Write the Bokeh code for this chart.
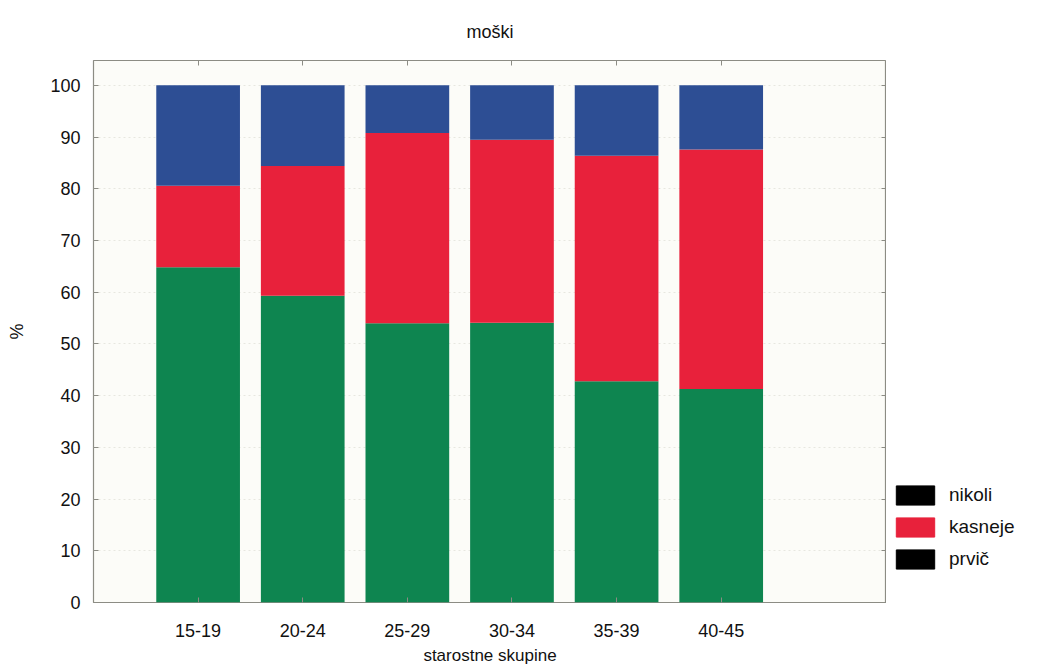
from bokeh.plotting import figure
from bokeh.layouts import row
from bokeh.models import (Range1d, LinearAxis, FixedTicker, Legend, LegendItem,
                          ColumnDataSource)
from bokeh.embed import file_html
from bokeh.resources import INLINE

# ---- data ----
categories = ["15-19", "20-24", "25-29", "30-34", "35-39", "40-45"]
prvic = [64.8, 59.3, 54.0, 54.1, 42.8, 41.3]
kasneje = [15.8, 25.1, 36.8, 35.4, 43.6, 46.3]
nikoli = [19.4, 15.6, 9.2, 10.5, 13.6, 12.4]
series_names = ["prvič", "kasneje", "nikoli"]
series_colors = ["#0e8550", "#e8213b", "#2d4e94"]
legend_names = ["nikoli", "kasneje", "prvič"]
legend_colors = ["black", "#e8213b", "black"]
y_ticks = [0, 10, 20, 30, 40, 50, 60, 70, 80, 90, 100]

FONT = "Liberation Sans"
TXT = "#111111"
NAN = float("nan")
xs = list(range(1, len(categories) + 1))

src = ColumnDataSource(dict(x=xs, prvič=prvic, kasneje=kasneje, nikoli=nikoli))

p = figure(frame_width=793, frame_height=542, output_backend="svg",
           toolbar_location=None,
           x_range=Range1d(0, 7.58), y_range=Range1d(0, 104.8), min_border=0)
p.margin = (0, 0, 0, 4)
p.background_fill_color = "#fcfcf8"
p.border_fill_color = "white"
p.outline_line_color = "#8c8c84"
p.outline_line_width = 1.2

p.vbar_stack(series_names, x="x", width=0.8, source=src, color=series_colors,
             line_color=None)

# axes
p.xaxis.ticker = FixedTicker(ticks=xs)
p.xaxis.major_label_overrides = {x: c for x, c in zip(xs, categories)}
p.yaxis.ticker = FixedTicker(ticks=y_ticks)
for ax in [p.xaxis[0], p.yaxis[0]]:
    ax.major_tick_in = 5
    ax.major_tick_out = 0
    ax.minor_tick_line_color = None
    ax.axis_line_color = None
    ax.major_tick_line_color = "#8c8c84"
    ax.major_label_text_font = FONT
    ax.major_label_text_font_size = "18px"
    ax.major_label_text_color = TXT
    ax.axis_label_text_font = FONT
    ax.axis_label_text_font_style = "normal"
    ax.axis_label_text_color = TXT
p.xaxis.major_label_standoff = 21
p.yaxis.major_label_standoff = 13
p.xaxis.axis_label = "starostne skupine"
p.xaxis.axis_label_text_font_size = "17px"
p.xaxis.axis_label_standoff = 6
p.yaxis.axis_label = "%"
p.yaxis.axis_label_text_font_size = "18px"
p.yaxis.axis_label_standoff = 20

for loc, ticks in [("right", y_ticks), ("above", xs)]:
    ax = LinearAxis(ticker=FixedTicker(ticks=ticks), major_label_text_font_size="0px",
                    major_tick_in=5, major_tick_out=0, minor_tick_line_color=None,
                    axis_line_color=None, major_tick_line_color="#8c8c84",
                    major_label_standoff=0)
    ax.major_label_text_color = None
    p.add_layout(ax, loc)

p.xgrid.grid_line_color = None
p.ygrid.ticker = FixedTicker(ticks=y_ticks)
p.ygrid.grid_line_color = "#d8d8d0"
p.ygrid.grid_line_dash = "2 3"
p.ygrid.grid_line_alpha = 0.6

# title
p.title.text = "moški"
p.title.align = "center"
p.title.offset = -9
p.title.standoff = 38
p.title.text_font = FONT
p.title.text_font_size = "18px"
p.title.text_font_style = "normal"
p.title.text_color = TXT

# legend panel (swatches as printed)
leg = figure(width=150, height=630, output_backend="svg", toolbar_location=None,
             x_axis_type=None, y_axis_type=None, min_border=0,
             x_range=Range1d(0, 1), y_range=Range1d(0, 1))
leg.margin = (10, 0, 0, 5)
leg.outline_line_color = None
leg.grid.visible = False
items = []
for name, col in zip(legend_names, legend_colors):
    r = leg.vbar(x=[NAN], top=[NAN], width=0.1, color=col)
    items.append(LegendItem(label=name, renderers=[r]))
legend = Legend(items=items, location=(0, 4), padding=0, margin=0,
                glyph_width=48, glyph_height=24, spacing=8, label_standoff=10,
                label_height=20,
                label_text_font=FONT, label_text_font_size="19px",
                label_text_color=TXT, border_line_color=None,
                background_fill_alpha=0)
leg.add_layout(legend, "center")

layout = row(p, leg)
open("out.html", "w").write(file_html(layout, INLINE))
